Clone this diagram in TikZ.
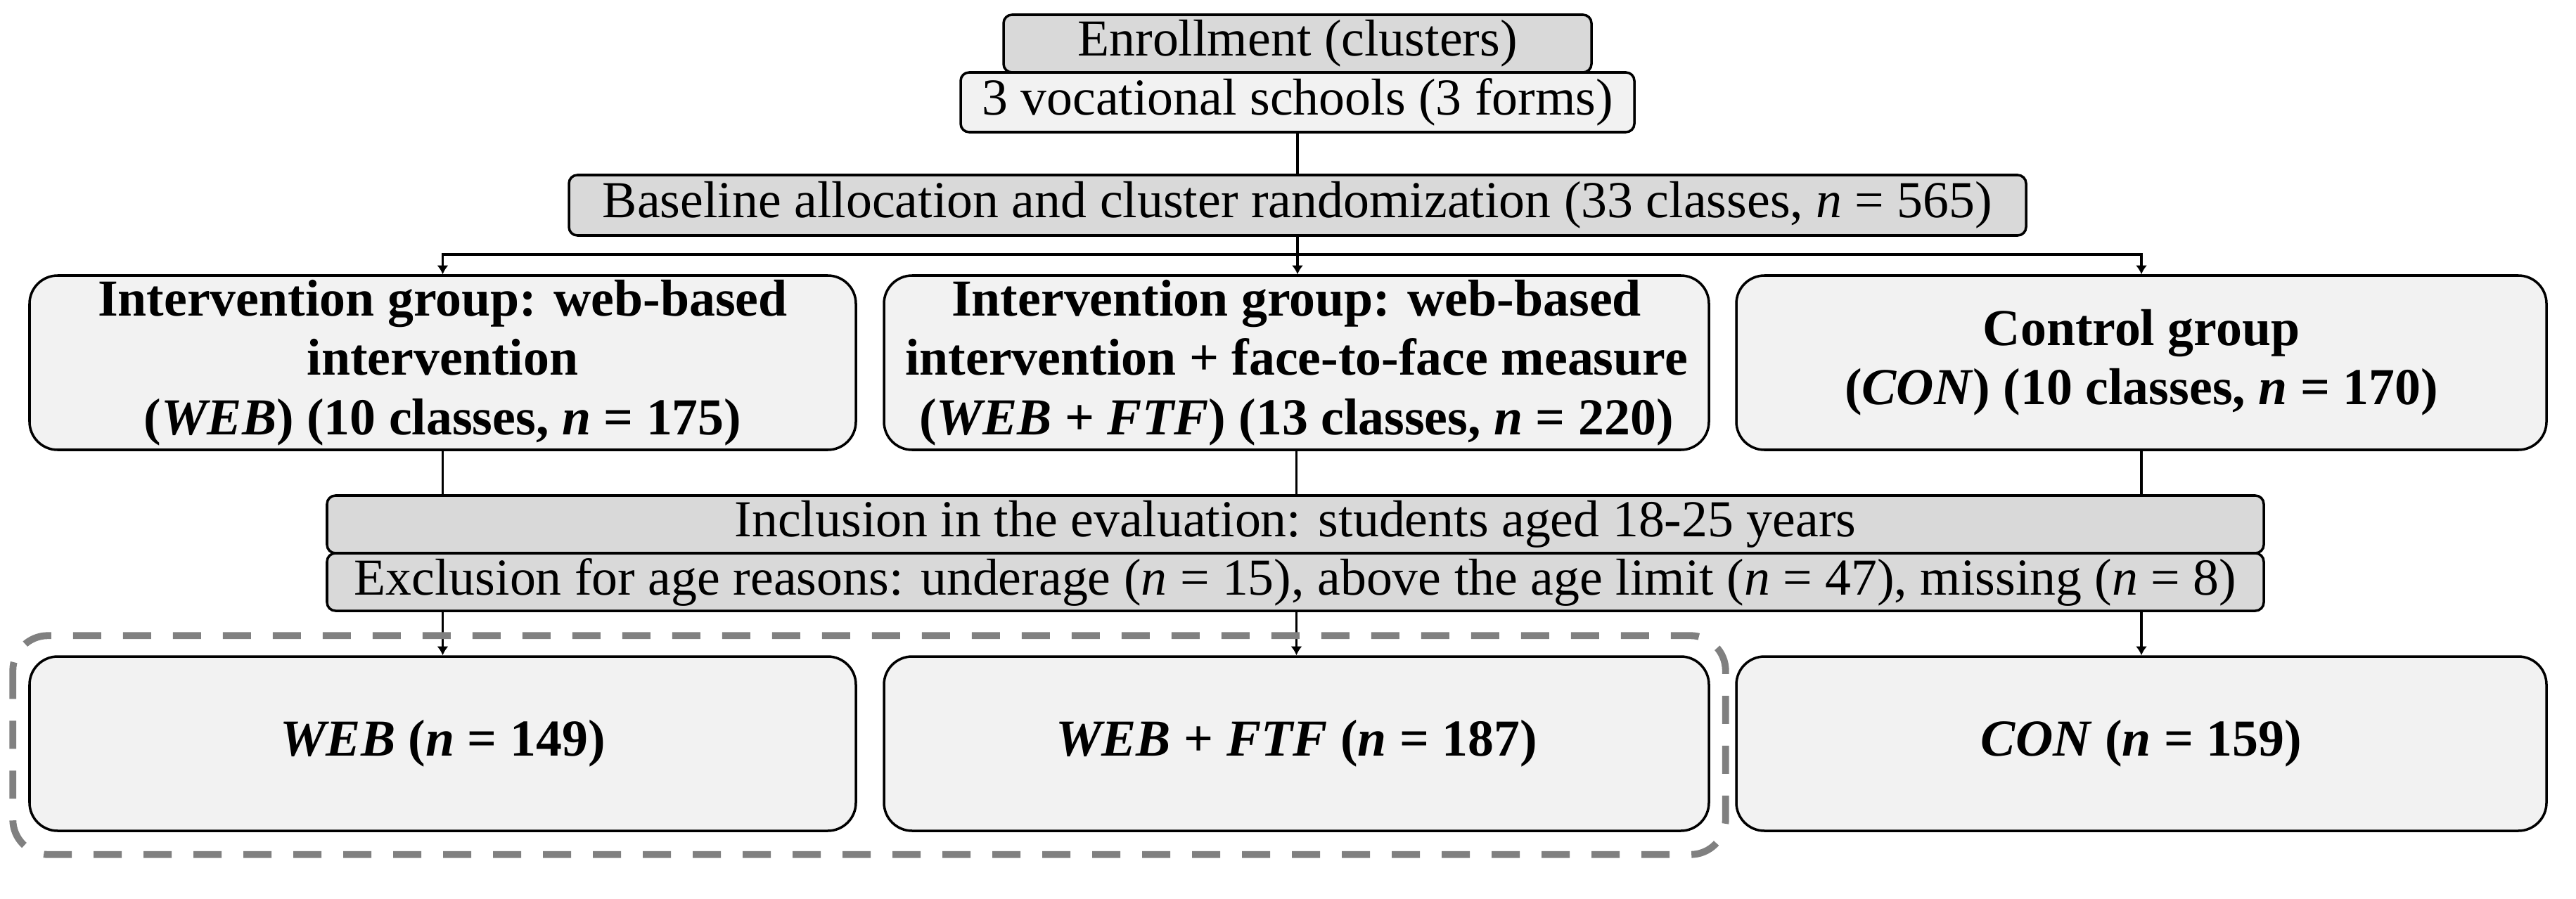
\documentclass[tikz,border=0pt]{standalone}
\usepackage{fontspec}
\setmainfont{Liberation Serif}
\usetikzlibrary{arrows.meta,calc}
\definecolor{boxgray}{HTML}{D9D9D9}
\definecolor{boxlight}{HTML}{F2F2F2}
\definecolor{dashgray}{HTML}{808080}

\begin{document}
\begin{tikzpicture}[
        basebox/.style={draw=black, line width=1pt, inner sep=0pt, font=\fontsize{21}{24}\selectfont},
        graybox/.style={basebox, fill=boxgray, rounded corners=0.12cm, minimum height=0.82cm},
        lightbox/.style={basebox, fill=boxlight, rounded corners=0.12cm, minimum height=0.85cm},
        groupbox/.style={basebox, fill=boxlight, rounded corners=0.4cm, minimum height=2.48cm, align=center, font=\fontsize{21}{24}\selectfont\bfseries},
        link/.style={draw=black, line width=0.9pt},
        arr/.style={link, -{Latex[length=3.6pt,width=4.6pt]}},
        dashbox/.style={draw=dashgray, line width=2.8pt, dash pattern=on 0.4cm off 0.31cm, rounded corners=0.5cm}
    ]
        \useasboundingbox (0,0) rectangle (36.63,-12.79);
        \node[graybox, minimum width=8.36cm] (enroll) at (18.45,-0.62) {Enrollment (clusters)};
        \node[lightbox, minimum width=9.58cm] (schools) at (18.45,-1.455) {3 vocational schools (3 forms)};
        \node[graybox, minimum width=20.72cm, minimum height=0.86cm] (base) at (18.45,-2.92) {Baseline allocation and cluster randomization (33 classes, \textit{n} = 565)};
        \node[groupbox, minimum width=11.75cm] (gweb) at (6.295,-5.16) {Intervention group: web-based\\intervention\\(\textit{WEB}) (10 classes, \textit{n} = 175)};
        \node[groupbox, minimum width=11.73cm] (gftf) at (18.435,-5.16) {Intervention group: web-based\\intervention + face-to-face measure\\(\textit{WEB} + \textit{FTF}) (13 classes, \textit{n} = 220)};
        \node[groupbox, minimum width=11.52cm] (gcon) at (30.45,-5.16) {Control group\\(\textit{CON}) (10 classes, \textit{n} = 170)};
        \node[graybox, minimum width=27.54cm] (incl) at (18.42,-7.46) {Inclusion in the evaluation: students aged 18-25 years};
        \node[graybox, minimum width=27.54cm] (excl) at (18.42,-8.28) {Exclusion for age reasons: underage (\textit{n} = 15), above the age limit (\textit{n} = 47), missing (\textit{n} = 8)};
        \node[groupbox, minimum width=11.75cm] (bweb) at (6.295,-10.58) {\textit{WEB} (\textit{n} = 149)};
        \node[groupbox, minimum width=11.73cm] (bftf) at (18.435,-10.58) {\textit{WEB} + \textit{FTF} (\textit{n} = 187)};
        \node[groupbox, minimum width=11.52cm] (bcon) at (30.45,-10.58) {\textit{CON} (\textit{n} = 159)};
        \coordinate (split) at (18.45,-3.62);
        \draw[link] (schools.south) -- (base.north);
        \draw[link] (base.south) -- (split);
        \draw[arr] (split) -| (gweb.north);
        \draw[arr] (split) -- (split |- gftf.north);
        \draw[arr] (split) -| (gcon.north);
        \draw[link] (gweb.south) -- (gweb.south |- incl.north);
        \draw[link] (gftf.south) -- (gftf.south |- incl.north);
        \draw[link] (gcon.south) -- (gcon.south |- incl.north);
        \draw[arr] (bweb.north |- excl.south) -- (bweb.north);
        \draw[arr] (bftf.north |- excl.south) -- (bftf.north);
        \draw[arr] (bcon.north |- excl.south) -- (bcon.north);
        \draw[dashbox] ($(bweb.north west)+(-0.22,0.28)$) rectangle ($(bftf.south east)+(0.22,-0.32)$);
    \end{tikzpicture}
\end{document}
